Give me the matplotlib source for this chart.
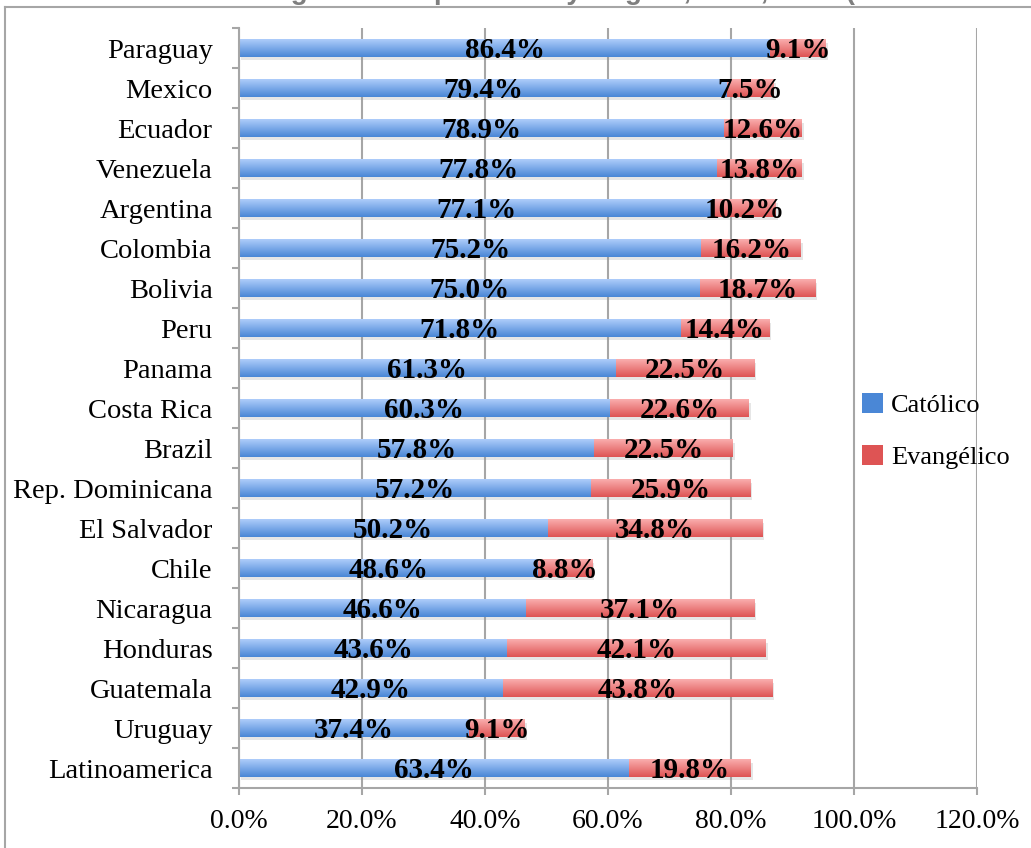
import numpy as np
import matplotlib
matplotlib.use("Agg")
import matplotlib.pyplot as plt
from matplotlib.lines import Line2D
from matplotlib.patches import Patch
import matplotlib.patheffects as pe

countries = ["Paraguay", "Mexico", "Ecuador", "Venezuela", "Argentina", "Colombia",
             "Bolivia", "Peru", "Panama", "Costa Rica", "Brazil", "Rep. Dominicana",
             "El Salvador", "Chile", "Nicaragua", "Honduras", "Guatemala", "Uruguay",
             "Latinoamerica"]
catolico = [86.4, 79.4, 78.9, 77.8, 77.1, 75.2, 75.0, 71.8, 61.3, 60.3, 57.8, 57.2,
            50.2, 48.6, 46.6, 43.6, 42.9, 37.4, 63.4]
evangelico = [9.1, 7.5, 12.6, 13.8, 10.2, 16.2, 18.7, 14.4, 22.5, 22.6, 22.5, 25.9,
              34.8, 8.8, 37.1, 42.1, 43.8, 9.1, 19.8]
series_names = ["Católico", "Evangélico"]
xticks = [0, 20, 40, 60, 80, 100, 120]
title = "Religious Composition by Region, 1995, 2013 (Latinobarómetro)"

FONT = "Liberation Serif"
W, H = 1031, 848
fig = plt.figure(figsize=(W / 100, H / 100), dpi=100)
ax = fig.add_axes([239 / W, 1 - 788 / H, (977 - 239) / W, (788 - 28) / H])

grid_c = "#a6a6a6"
blue_top, blue_bot = np.array([0.68, 0.80, 0.98]), np.array([0.29, 0.53, 0.84])
red_top, red_bot = np.array([0.98, 0.68, 0.68]), np.array([0.87, 0.33, 0.33])

y = np.arange(len(countries))
h = 0.43
shadow = [pe.SimplePatchShadow(offset=(1.5, -2.5), shadow_rgbFace="#909090", alpha=0.22), pe.Normal()]

def grad_img(top, bot):
    t = np.linspace(0, 1, 32)[:, None]
    return (top[None, :] * (1 - t) + bot[None, :] * t)[:, None, :]

bars_c = ax.barh(y, catolico, height=h, color=blue_bot, edgecolor="none", zorder=2)
bars_e = ax.barh(y, evangelico, left=catolico, height=h, color=red_bot, edgecolor="none", zorder=2)

for bars, (top, bot) in ((bars_c, (blue_top, blue_bot)), (bars_e, (red_top, red_bot))):
    img = grad_img(top, bot)
    for b in bars:
        b.set_path_effects(shadow)
        x0, y0 = b.get_x(), b.get_y()
        w, hh = b.get_width(), b.get_height()
        im = ax.imshow(img, extent=[x0, x0 + w, y0 + hh, y0], aspect="auto",
                       interpolation="bilinear", zorder=2.5)
        im.set_clip_path(b)

for i in range(len(countries)):
    ax.text(catolico[i] / 2, y[i] + 0.05, f"{catolico[i]:.1f}%", ha="center", va="center",
            fontsize=21, fontweight="bold", family=FONT, zorder=4)
    ax.text(catolico[i] + evangelico[i] / 2, y[i] + 0.05, f"{evangelico[i]:.1f}%",
            ha="center", va="center", fontsize=21, fontweight="bold", family=FONT, zorder=4)

ax.set_xlim(0, 120)
ax.set_ylim(len(countries) - 0.5, -0.5)
ax.set_xticks(xticks)
ax.set_xticklabels([f"{v:.1f}%" for v in xticks], family=FONT, fontsize=20)
ax.set_yticks(y)
ax.set_yticklabels(countries, family=FONT, fontsize=20.5)
ax.set_yticks(np.arange(-0.5, len(countries), 1), minor=True)
ax.tick_params(axis="y", which="major", length=0, pad=19)
ax.tick_params(axis="y", which="minor", length=5, width=1.5, color=grid_c, direction="out")
ax.tick_params(axis="x", which="major", length=5, width=1.5, color=grid_c, pad=10)
ax.xaxis.grid(True, color=grid_c, linewidth=1.5, zorder=0)
ax.set_axisbelow(True)
for s in ["top", "right"]:
    ax.spines[s].set_visible(False)
for s in ["left", "bottom"]:
    ax.spines[s].set_color(grid_c)
    ax.spines[s].set_linewidth(1.5)

handles = [Patch(facecolor=blue_bot, edgecolor="none"), Patch(facecolor=red_bot, edgecolor="none")]
fig.legend(handles, series_names, loc="center left", bbox_to_anchor=(838 / W, 1 - 431 / H),
           frameon=False, prop={"family": FONT, "size": 19}, handlelength=0.8, handleheight=0.8,
           handletextpad=0.3, labelspacing=1.05)

# outer chart border (top and left edges visible)
fig.add_artist(Line2D([5 / W, 5 / W], [0, 1 - 7 / H], color=grid_c, linewidth=1.5))
fig.add_artist(Line2D([5 / W, 1], [1 - 7 / H, 1 - 7 / H], color=grid_c, linewidth=1.5))

fig.text(240 / W, 1 + 1 / H, title, ha="left", va="baseline", fontsize=20, fontweight="bold",
         color="#7f7f7f", family="Liberation Sans")

fig.savefig("out.png", dpi=100)
